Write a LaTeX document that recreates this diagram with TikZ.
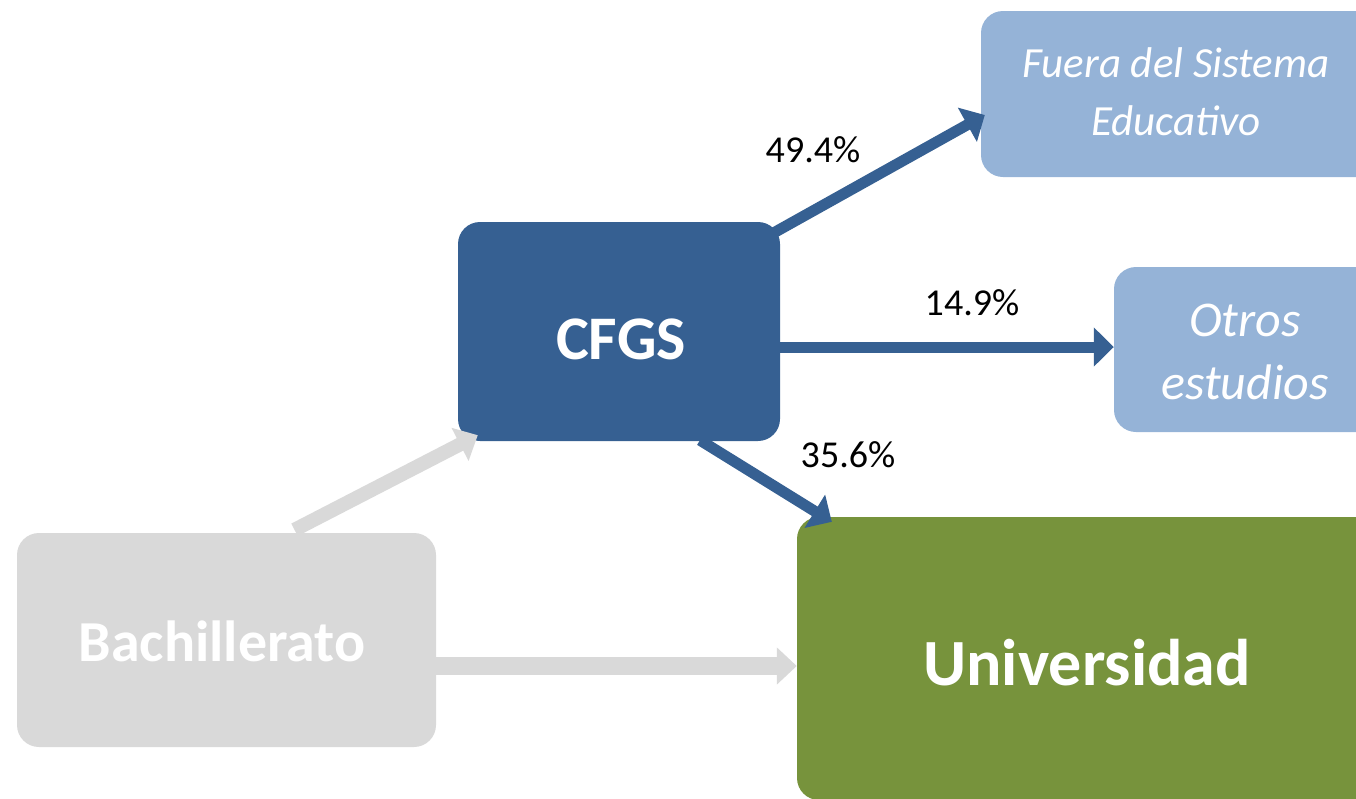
\documentclass[tikz,border=0pt]{standalone}
\usepackage{fontspec}
\setmainfont{Carlito}
\usetikzlibrary{arrows.meta}
\definecolor{dblue}{RGB}{54,96,146}
\definecolor{lblue}{RGB}{149,179,215}
\definecolor{lgrey}{RGB}{217,217,217}
\definecolor{dgreen}{RGB}{119,147,60}
\begin{document}
\begin{tikzpicture}[x=1pt,y=-1pt,
  box/.style={rectangle, rounded corners=22pt, inner sep=0pt, draw=none},
  boxtext/.style={text=white, align=center, inner sep=0pt},
  pct/.style={text=black, inner sep=0pt, font=\fontsize{38}{44}\selectfont},
  bluearrow/.style={draw=dblue, line width=11pt, -{Triangle[length=20pt,width=38pt]}},
  greyarrow/.style={draw=lgrey, -{Triangle[length=20pt,width=36pt]}}]
\useasboundingbox (0,0) rectangle (1356,798);
\clip (0,0) rectangle (1356,798);
% boxes
\node[box, fill=lblue, minimum width=409pt, minimum height=166pt] (fuera) at (1185.5,94) {};
\node[boxtext, font=\itshape\fontsize{43}{58}\selectfont] (fueratxt) at (1176,92) {Fuera del Sistema\\Educativo};
\node[box, fill=lblue, minimum width=266pt, minimum height=165pt] (otros) at (1247,349.5) {};
\node[boxtext, font=\itshape\fontsize{50}{63}\selectfont] (otrostxt) at (1245,352) {Otros\\estudios};
\node[box, fill=dblue, minimum width=322pt, minimum height=219pt] (cfgs) at (619,331.5) {};
\node[boxtext, font=\bfseries\fontsize{62}{70}\selectfont] (cfgstxt) at (621,339) {CFGS};
\node[box, fill=lgrey, minimum width=419pt, minimum height=214pt] (bach) at (226.5,640) {};
\node[boxtext, font=\bfseries\fontsize{58}{66}\selectfont] (bachtxt) at (222,641) {Bachillerato};
\node[box, fill=dgreen, minimum width=583pt, minimum height=283pt] (univ) at (1088.5,658.5) {};
\node[boxtext, font=\bfseries\fontsize{66}{74}\selectfont] (univtxt) at (1087,663) {Universidad};
% arrows
\draw[greyarrow, line width=14pt] ([xshift=68pt,yshift=3pt]bach.north) -- ([xshift=20pt,yshift=6pt]cfgs.south west);
\draw[greyarrow, line width=18pt] ([yshift=-26pt]bach.east) -- ([yshift=-7.5pt]univ.west);
\draw[bluearrow] ([xshift=-10pt,yshift=-13pt]cfgs.north east) -- ([xshift=4pt,yshift=-21pt]fuera.west);
\draw[bluearrow] ([yshift=-15.5pt]cfgs.east) -- ([yshift=2.5pt]otros.west);
\draw[bluearrow] ([xshift=81pt,yshift=1pt]cfgs.south) -- ([xshift=35pt,yshift=-5pt]univ.north west);
% labels
\node[pct] (l1) at (813,150) {49.4\%};
\node[pct] (l2) at (972,303) {14.9\%};
\node[pct] (l3) at (848,455) {35.6\%};
\end{tikzpicture}
\end{document}
